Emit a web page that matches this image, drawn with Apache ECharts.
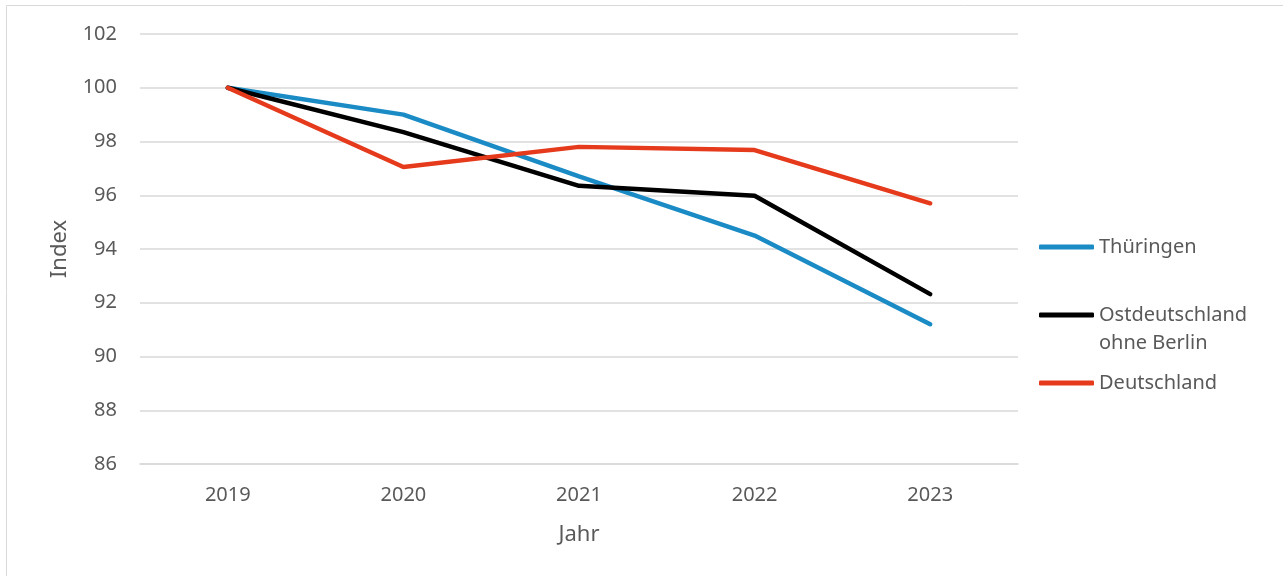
<!DOCTYPE html>
<html>
<head>
<meta charset="utf-8">
<script src="https://cdn.jsdelivr.net/npm/echarts@6/dist/echarts.min.js"></script>
<style>
  html, body { margin: 0; padding: 0; background: #fff; }
  #main { width: 1283px; height: 576px; }
</style>
</head>
<body>
<div id="main"></div>
<script>
var myChart = echarts.init(document.getElementById('main'));

var years = ['2019', '2020', '2021', '2022', '2023'];
var thueringen = [100, 99.0, 96.7, 94.5, 91.2];
var ostdeutschland = [100, 98.35, 96.35, 95.98, 92.32];
var deutschland = [100, 97.05, 97.8, 97.68, 95.7];

var ostName = 'Ostdeutschland\nohne Berlin';
var textColor = '#595959';
var fontFamily = '"Noto Sans", "Open Sans", sans-serif';

option = {
    animation: false,
    textStyle: { fontFamily: fontFamily },
    graphic: [{
        type: 'rect',
        shape: { x: 6.5, y: 5.5, width: 1290, height: 600 },
        style: { fill: 'none', stroke: '#d9d9d9', lineWidth: 1 }
    }],
    grid: { left: 140, right: 265, top: 34, bottom: 112 },
    legend: {
        orient: 'vertical',
        left: 1034,
        top: 228,
        itemWidth: 55,
        itemHeight: 5,
        itemGap: 12,
        icon: 'roundRect',
        textStyle: { fontSize: 20, color: textColor, lineHeight: 28, fontFamily: fontFamily },
        // Erste Zeile des zweizeiligen Eintrags auf Höhe der Linie setzen
        formatter: function (name) {
            return name === ostName ? '\n' + name : name;
        },
        data: ['Thüringen', ostName, 'Deutschland']
    },
    xAxis: {
        type: 'category',
        data: years,
        name: 'Jahr',
        nameLocation: 'middle',
        nameGap: 60,
        nameTextStyle: { fontSize: 22, color: textColor },
        axisLine: { lineStyle: { color: '#d9d9d9', width: 1.5 } },
        axisTick: { show: false },
        axisLabel: { fontSize: 20, color: textColor, margin: 21 }
    },
    yAxis: {
        type: 'value',
        min: 86,
        max: 102,
        interval: 2,
        name: 'Index',
        nameLocation: 'middle',
        nameRotate: 90,
        nameGap: 69,
        nameTextStyle: { fontSize: 22, color: textColor },
        axisLine: { show: false },
        axisTick: { show: false },
        axisLabel: { fontSize: 20, color: textColor, margin: 23 },
        splitLine: { lineStyle: { color: '#d9d9d9', width: 1.5 } }
    },
    series: [
        {
            name: 'Thüringen',
            type: 'line',
            data: thueringen,
            symbol: 'none',
            lineStyle: { color: '#1a8bc5', width: 4.5, cap: 'round' },
            itemStyle: { color: '#1a8bc5' },
            z: 3
        },
        {
            name: ostName,
            type: 'line',
            data: ostdeutschland,
            symbol: 'none',
            lineStyle: { color: '#000000', width: 4.5, cap: 'round' },
            itemStyle: { color: '#000000' },
            z: 4
        },
        {
            name: 'Deutschland',
            type: 'line',
            data: deutschland,
            symbol: 'none',
            lineStyle: { color: '#e63a1c', width: 4.5, cap: 'round' },
            itemStyle: { color: '#e63a1c' },
            z: 5
        }
    ]
};

myChart.setOption(option);
</script>
</body>
</html>
